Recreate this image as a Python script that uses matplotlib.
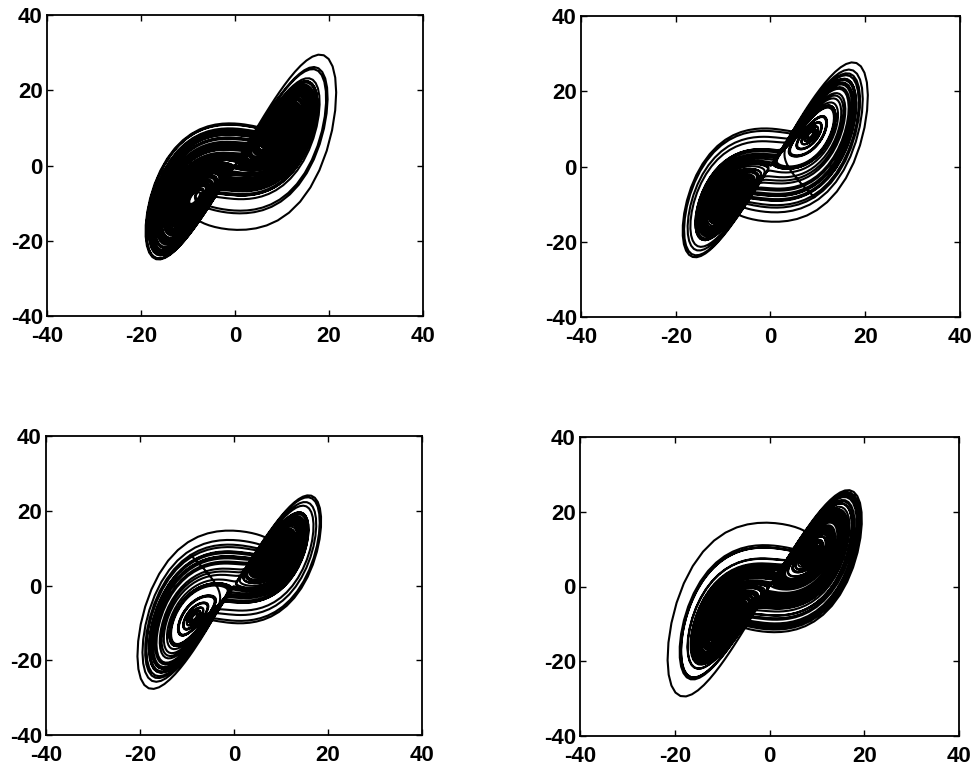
import numpy as np
import matplotlib
matplotlib.use("Agg")
import matplotlib.pyplot as plt

# Lorenz system parameters (each panel is an x-y projection of a Lorenz trajectory)
SIGMA = 10.0
RHO = 28.0
BETA = 8.0 / 3.0

# initial state, step size and duration per panel (TL, TR, BL, BR)
initial_states = [
    [0.1, 0.0, 0.0],
    [9.2, -8.1, 5.0],
    [-9.2, 8.1, 5.0],
    [-0.1, 0.0, 0.1],
]
step_sizes = [0.01, 0.01, 0.01, 0.01]
durations = [150.0, 60.0, 60.0, 150.0]

axis_limits = [-40, 40]
tick_values = [-40, -20, 0, 20, 40]
tick_labels = ["-40", "-20", "0", "20", "40"]


def lorenz(s):
    x, y, z = s
    return np.array([SIGMA * (y - x), x * (RHO - z) - y, x * y - BETA * z])


def integrate(s0, dt, T):
    n = int(T / dt)
    out = np.empty((n + 1, 3))
    s = np.array(s0, dtype=float)
    out[0] = s
    for i in range(n):
        s = s + dt * lorenz(s)
        out[i + 1] = s
    return out


plt.rcParams['font.family'] = ['Liberation Sans', 'DejaVu Sans']
fig = plt.figure(figsize=(9.78, 7.68), dpi=100)

W, H = 978.0, 768.0
boxes = [  # left, top, right, bottom in pixels
    (47, 15, 423, 316),
    (581, 16, 960, 317),
    (46, 436, 422, 735),
    (580, 437, 959, 736),
]

for k, (l, t, r, b) in enumerate(boxes):
    ax = fig.add_axes([l / W, 1 - b / H, (r - l) / W, (b - t) / H])
    traj = integrate(initial_states[k], step_sizes[k], durations[k])
    ax.plot(traj[:, 0], traj[:, 1], color="black", lw=1.5)
    ax.set_xlim(axis_limits)
    ax.set_ylim(axis_limits)
    ax.set_xticks(tick_values)
    ax.set_xticklabels(tick_labels)
    ax.set_yticks(tick_values)
    ax.set_yticklabels(tick_labels)
    ax.tick_params(direction="in", length=4, width=1, top=True, right=True,
                   labelsize=16, colors="black")
    ax.tick_params(axis="x", pad=7)
    ax.tick_params(axis="y", pad=3)
    for lab in ax.get_xticklabels() + ax.get_yticklabels():
        lab.set_fontweight("bold")
    for sp in ax.spines.values():
        sp.set_linewidth(1.3)
        sp.set_color("black")

fig.savefig("out.png", dpi=100)
